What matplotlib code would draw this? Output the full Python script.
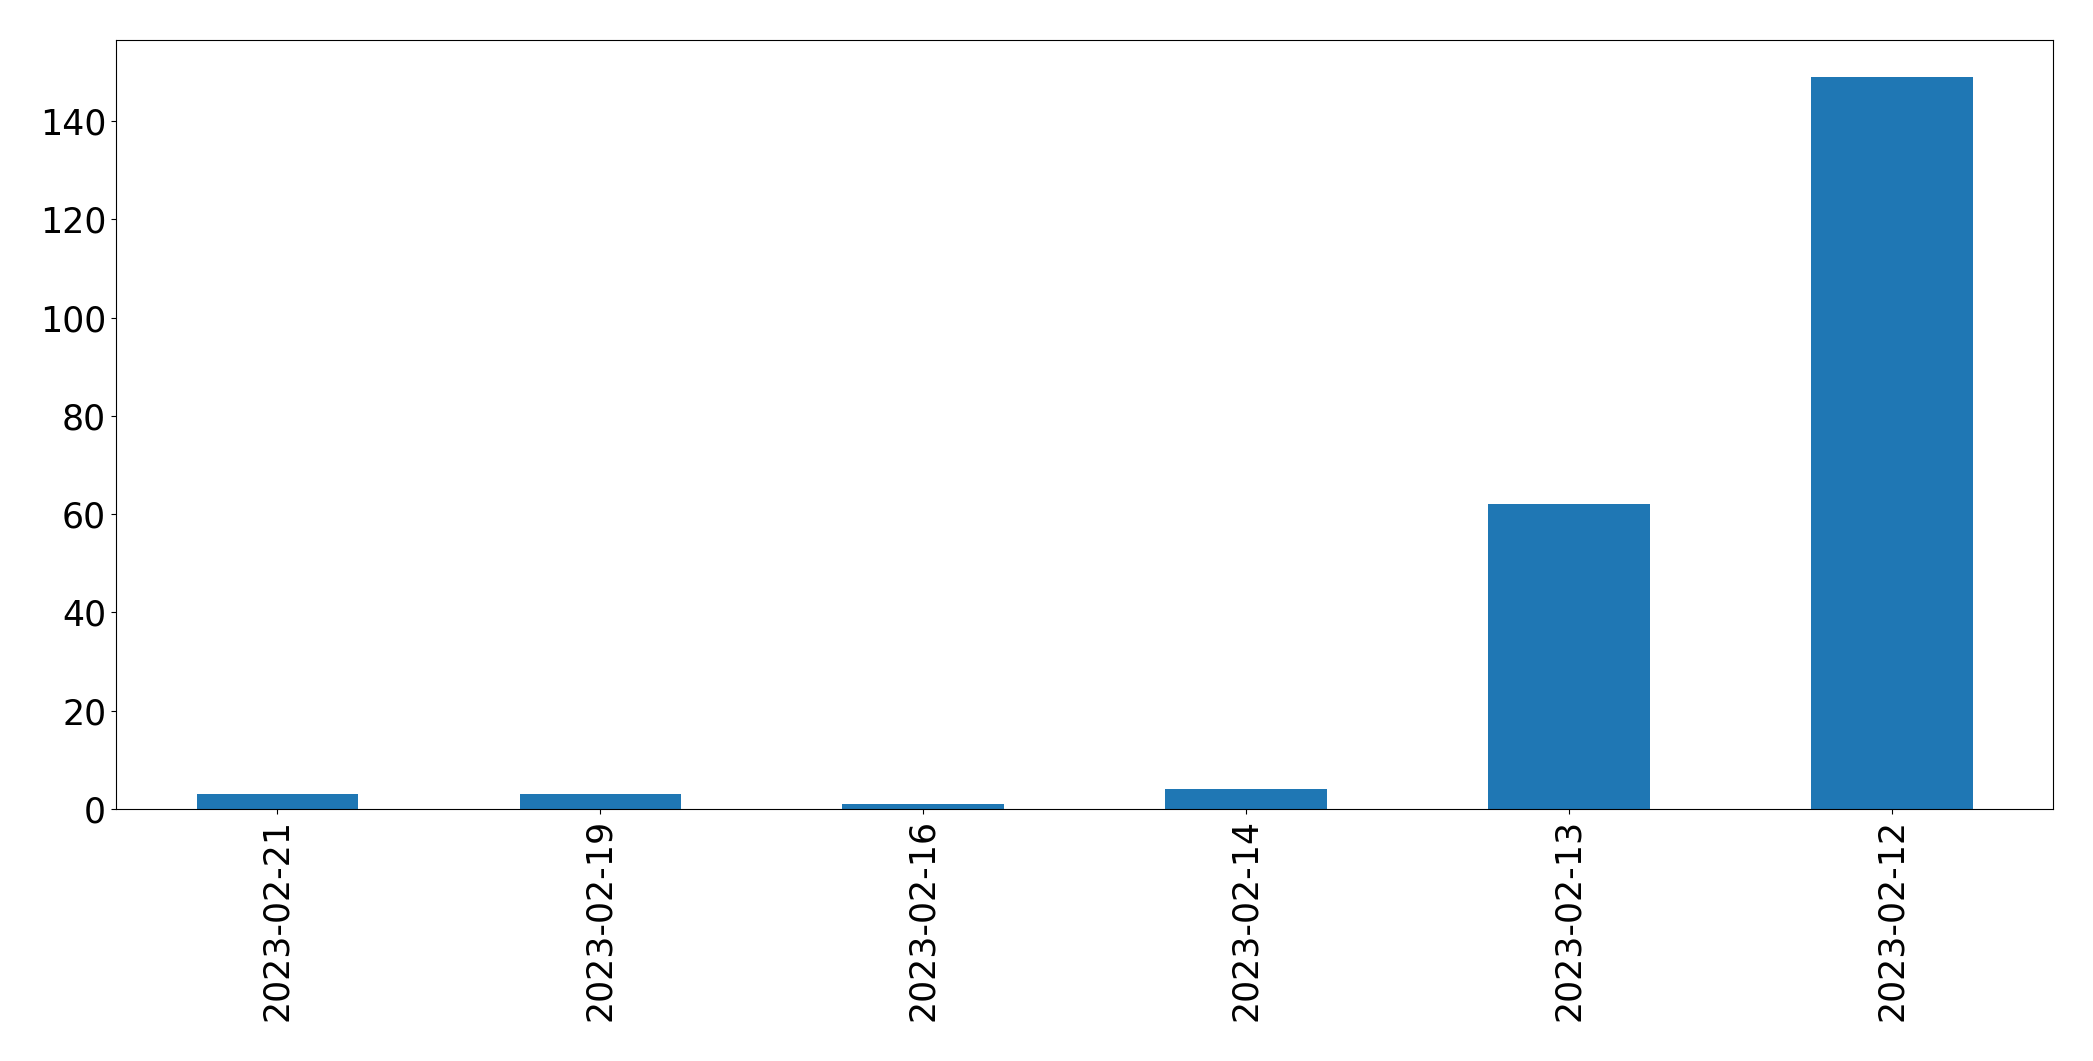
import matplotlib
matplotlib.use("Agg")
import matplotlib.pyplot as plt
import pandas as pd

# counts per day
dates = ["2023-02-21", "2023-02-19", "2023-02-16", "2023-02-14", "2023-02-13", "2023-02-12"]
counts = [3, 3, 1, 4, 62, 149]

s = pd.Series(counts, index=dates)

fig = plt.figure(figsize=(20.93, 10.61), dpi=100)
ax = fig.add_axes([0.0554, 0.2375, 0.9256, 0.7245])
s.plot.bar(ax=ax, color="#1f77b4")
ax.tick_params(axis="both", labelsize=25)
fig.savefig("out.png", dpi=100)
